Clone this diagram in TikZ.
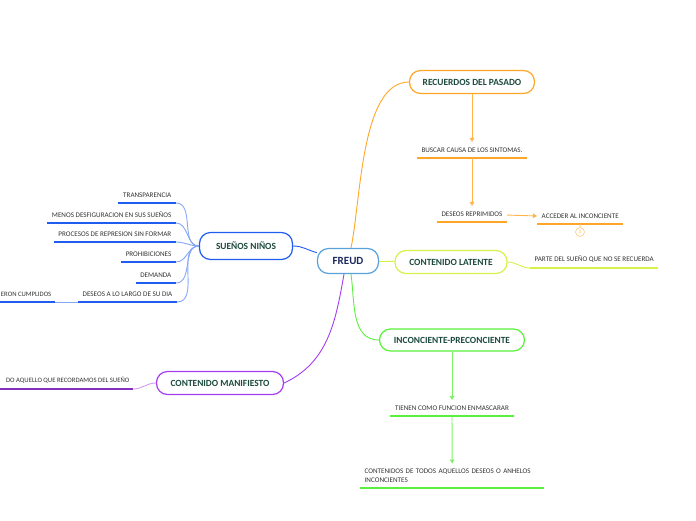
\documentclass[tikz,border=0pt]{standalone}
\usepackage{fontspec}
\setmainfont{Carlito}
\usetikzlibrary{arrows.meta,positioning}

\definecolor{cnavy}{HTML}{1B2A5E}
\definecolor{cfreud}{HTML}{58A2DC}
\definecolor{cblue}{HTML}{1F5CF0}
\definecolor{cbluel}{HTML}{86A8F8}
\definecolor{corange}{HTML}{FFA628}
\definecolor{cyellow}{HTML}{D8F04A}
\definecolor{cgreen}{HTML}{5AF03C}
\definecolor{cpurple}{HTML}{A53CF0}
\definecolor{ctitle}{HTML}{1D4A3E}
\definecolor{ctext}{HTML}{333333}

\tikzset{
  topic/.style={draw=#1, line width=1.2pt, rounded corners=11pt, fill=white,
    font=\bfseries\fontsize{9.4}{10}\selectfont, text=ctitle, minimum height=23pt},
  leaf/.style={font=\fontsize{7.1}{8.4}\selectfont, text=ctext, inner xsep=4.5pt, inner ysep=5.5pt},
  edgeleaf/.style={leaf, font=\fontsize{6.7}{8}\selectfont, inner xsep=3.5pt},
  leafline/.style={line width=1.8pt},
  link/.style={line width=0.9pt},
  note/.style={circle, draw=corange!60, line width=0.6pt, inner sep=0.5pt, minimum size=9pt,
    font=\fontsize{5.5}{6}\selectfont, text=corange!80}
}

\begin{document}
\begin{tikzpicture}[x=1pt,y=-1pt,>={Triangle[length=4pt,width=4.5pt]}]
\useasboundingbox (0,0) rectangle (696,520);

% main topics
\node[topic=cfreud, text=cnavy, font=\bfseries\fontsize{11}{12}\selectfont,
  minimum width=61pt, minimum height=25pt] (freud) at (348,261) {FREUD};
\node[topic=cblue, minimum width=93pt, minimum height=27pt] (sn) at (246,246) {SUEÑOS NIÑOS};
\node[topic=corange, minimum width=125pt] (rec) at (472,82) {RECUERDOS DEL PASADO};
\node[topic=cyellow, minimum width=112pt] (lat) at (451,262) {CONTENIDO LATENTE};
\node[topic=cgreen, minimum width=145pt, minimum height=22pt] (inc) at (452,340) {INCONCIENTE-PRECONCIENTE};
\node[topic=cpurple, minimum width=127pt] (man) at (220,383) {CONTENIDO MANIFIESTO};

% sueños niños
\node[leaf, anchor=south east] (sn1) at (176,203) {TRANSPARENCIA};
\node[leaf, anchor=south east] (sn2) at (176,223) {MENOS DESFIGURACION EN SUS SUEÑOS};
\node[leaf, anchor=south east] (sn3) at (176,242) {PROCESOS DE REPRESION SIN FORMAR};
\node[leaf, anchor=south east] (sn4) at (176,262) {PROHIBICIONES};
\node[leaf, anchor=south east] (sn5) at (176,283) {DEMANDA};
\node[leaf, anchor=south east] (sn6) at (177,302) {DESEOS A LO LARGO DE SU DIA};
\node[edgeleaf, anchor=south east] (sn7) at (55,302) {ERON CUMPLIDOS};
\coordinate (sn7end) at (0,302);

% recuerdos del pasado
\node[leaf, anchor=south] (rc1) at (472,158) {BUSCAR CAUSA DE LOS SINTOMAS.};
\node[leaf, anchor=south] (rc2) at (472,222) {DESEOS REPRIMIDOS};
\node[leaf, anchor=south west] (rc3) at (537,224) {ACCEDER AL INCONCIENTE};
\node[note] (rc3n) at (580,232) {1};

% contenido latente
\node[leaf, anchor=south west] (lt1) at (530,268) {PARTE DEL SUEÑO QUE NO SE RECUERDA};

% inconciente-preconciente
\node[leaf, anchor=south] (ic1) at (452,416) {TIENEN COMO FUNCION ENMASCARAR};
\node[leaf, anchor=south west, text width=175pt, align=left] (ic2) at (360,488)
  {CONTENIDOS DE TODOS AQUELLOS DESEOS O ANHELOS\\INCONCIENTES};

% contenido manifiesto
\node[edgeleaf, anchor=south east] (mf1) at (133,389) {DO AQUELLO QUE RECORDAMOS DEL SUEÑO};
\coordinate (mf1end) at (0,389);

% underlines
\foreach \n in {sn1,sn2,sn3,sn4,sn5,sn6}
  \draw[leafline, cblue] (\n.south west) -- (\n.south east);
\draw[leafline, cblue] (sn7end) -- (sn7.south east);
\foreach \n in {rc1,rc2,rc3}
  \draw[leafline, corange] (\n.south west) -- (\n.south east);
\draw[leafline, cyellow] (lt1.south west) -- (lt1.south east);
\foreach \n in {ic1,ic2}
  \draw[leafline, cgreen] (\n.south west) -- (\n.south east);
\draw[leafline, cpurple!80!black] (mf1end) -- (mf1.south east);

% connectors
\path[link, cbluel]
  (sn.west) edge[out=180,in=0] (sn1.south east)
  (sn.west) edge[out=180,in=0] (sn2.south east)
  (sn.west) edge[out=180,in=0] (sn3.south east)
  (sn.west) edge[out=180,in=0] (sn4.south east)
  (sn.west) edge[out=180,in=0] (sn5.south east)
  (sn.west) edge[out=180,in=0] (sn6.south east)
  (sn6.south west) edge (sn7.south east);
\path[link, cblue] (sn.east) edge[out=0,in=165] (freud.165);

\path[link, corange] ([xshift=3pt]freud.north) edge[out=78,in=180,looseness=0.7] (rec.west);
\path[->, link, corange!85]
  (rec) edge (rc1)
  (rc1) edge (rc2)
  (rc2) edge (rc3.west);
\path[link, corange!60] (rc3.south) edge (rc3n);

\path[link, cyellow]
  (freud) edge (lat)
  (lat.east) edge[out=0,in=180] (lt1.south west);

\path[link, cgreen] ([xshift=3pt]freud.south) edge[out=-82,in=180] (inc.west);
\path[->, link, cgreen!80]
  (inc) edge (ic1)
  (ic1) edge (ic2);

\path[link, cpurple] ([xshift=-4pt]freud.south) edge[out=-100,in=25] (man.east);
\path[link, cpurple!50] (man.west) edge[out=180,in=0] (mf1.south east);
\end{tikzpicture}
\end{document}
